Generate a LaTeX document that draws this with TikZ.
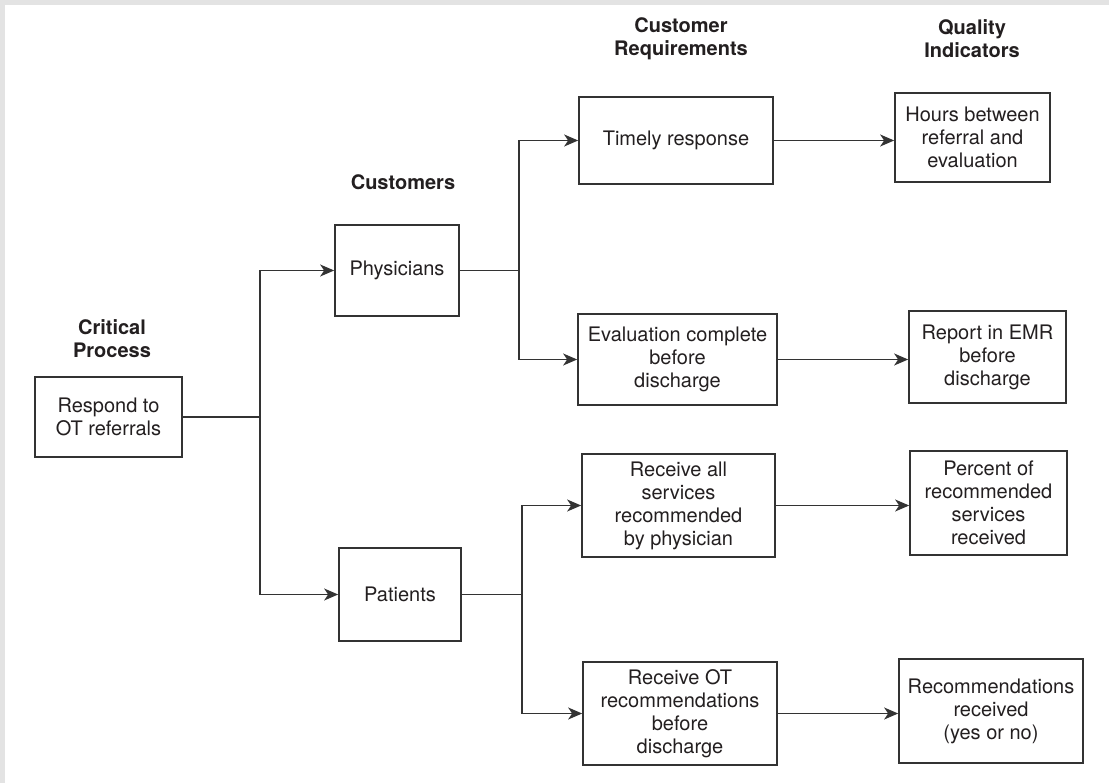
\documentclass[tikz,border=0pt]{standalone}
\usepackage{fontspec}
\setmainfont{TeX Gyre Heros}
\usetikzlibrary{arrows.meta}
\definecolor{inkc}{HTML}{231F20}
\definecolor{linec}{HTML}{333333}
\definecolor{framec}{HTML}{E3E3E3}
\begin{document}
\begin{tikzpicture}[x=1pt,y=-1pt,
  every node/.style={text=inkc, font=\fontsize{20}{23}\selectfont},
  box/.style={draw=linec, line width=1.7pt, align=center, inner sep=0pt},
  head/.style={align=center, font=\fontsize{20}{23}\selectfont\bfseries},
  link/.style={draw=linec, line width=1.6pt},
  arrowlink/.style={link, -{Stealth[length=14pt,width=12pt,inset=4pt]}}]
% page frame
\fill[framec] (0,0) rectangle (1109,783);
\fill[white] (5,5) rectangle (1109,783);
\useasboundingbox (0,0) rectangle (1109,783);

% column headings
\node[head] (hcrit) at (112,338.5) {Critical\\Process};
\node[head] (hcust) at (403,182) {Customers};
\node[head] (hreq) at (681,39) {Customer\\Requirements};
\node[head] (hqual) at (972,39) {Quality\\Indicators};

% boxes
\node[box, minimum width=147pt, minimum height=80pt] (resp) at (108.5,417) {Respond to\\OT referrals};
\node[box, minimum width=124pt, minimum height=91pt] (phys) at (397,270.5) {Physicians};
\node[box, minimum width=122pt, minimum height=93pt] (pat) at (400,594.5) {Patients};
\node[box, minimum width=194pt, minimum height=87pt] (timely) at (676,140.5) {Timely response};
\node[box, minimum width=199pt, minimum height=91pt] (eval) at (677.5,359.5) {Evaluation complete\\before\\discharge};
\node[box, minimum width=193pt, minimum height=103pt] (rall) at (678.5,505.5) {Receive all\\services\\recommended\\by physician};
\node[box, minimum width=194pt, minimum height=103pt] (rot) at (680,713.5) {Receive OT\\recommendations\\before\\discharge};
\node[box, minimum width=155pt, minimum height=89pt] (hours) at (972.5,137.5) {Hours between\\referral and\\evaluation};
\node[box, minimum width=157pt, minimum height=92pt] (emr) at (987.5,357) {Report in EMR\\before\\discharge};
\node[box, minimum width=157pt, minimum height=104pt] (pct) at (988.5,503) {Percent of\\recommended\\services\\received};
\node[box, minimum width=184pt, minimum height=104pt] (recs) at (991,711) {Recommendations\\received\\(yes or no)};

% branch points
\coordinate (j1) at (260,417);
\coordinate (j2) at (519,270.5);
\coordinate (j3) at (522,594.5);

% connectors
\draw[link] (resp.east) -- (j1);
\draw[arrowlink] (j1) |- (phys.west);
\draw[arrowlink] (j1) |- (pat.west);
\draw[link] (phys.east) -- (j2);
\draw[arrowlink] (j2) |- (timely.west);
\draw[arrowlink] (j2) |- (eval.west);
\draw[link] (pat.east) -- (j3);
\draw[arrowlink] (j3) |- (rall.west);
\draw[arrowlink] (j3) |- (rot.west);
\draw[arrowlink] (timely.east) -- (timely.east -| hours.west);
\draw[arrowlink] (eval.east) -- (eval.east -| emr.west);
\draw[arrowlink] (rall.east) -- (rall.east -| pct.west);
\draw[arrowlink] (rot.east) -- (rot.east -| recs.west);
\end{tikzpicture}
\end{document}
